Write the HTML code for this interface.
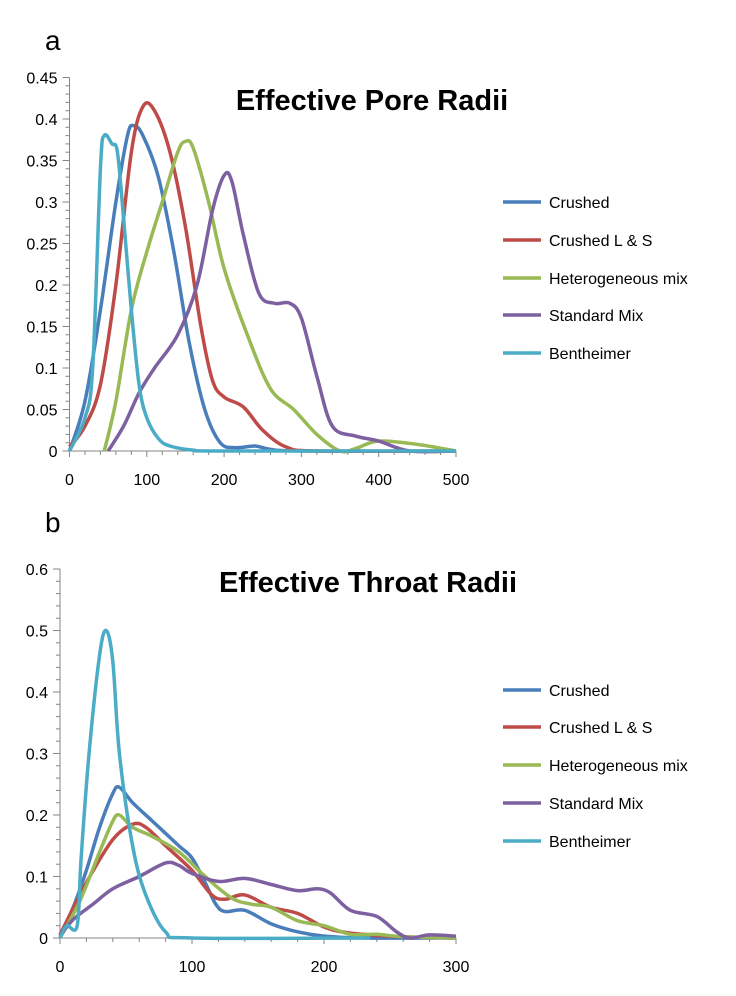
<!DOCTYPE html>
<html><head><meta charset="utf-8"><style>
body{margin:0;background:#fff;}
svg text{font-family:"Liberation Sans",sans-serif;}
</style></head><body>
<svg id="s" width="736" height="991" xmlns="http://www.w3.org/2000/svg">
<text x="45" y="50" font-size="28">a</text>
<text x="45" y="532" font-size="28">b</text>
<text x="372" y="110" font-size="29" font-weight="bold" text-anchor="middle">Effective Pore Radii</text>
<text x="368" y="592" font-size="29" font-weight="bold" text-anchor="middle">Effective Throat Radii</text>
</svg>
<script>
const s=document.getElementById('s');const NS='http://www.w3.org/2000/svg';
function el(t,a,txt){const e=document.createElementNS(NS,t);for(const k in a)e.setAttribute(k,a[k]);if(txt!==undefined)e.textContent=txt;s.appendChild(e);return e;}
function path(pts){let d='M'+pts[0][0]+','+pts[0][1];for(let i=0;i<pts.length-1;i++){const p0=pts[i-1]||pts[i],p1=pts[i],p2=pts[i+1],p3=pts[i+2]||p2;
const c1=[p1[0]+(p2[0]-p0[0])/6,p1[1]+(p2[1]-p0[1])/6],c2=[p2[0]-(p3[0]-p1[0])/6,p2[1]-(p3[1]-p1[1])/6];
d+=` C${c1[0]},${c1[1]} ${c2[0]},${c2[1]} ${p2[0]},${p2[1]}`;}return d;}
const cols=['#4A7EBB','#BE4B48','#98B954','#7D60A0','#4BACC6'];
const names=['Crushed','Crushed L & S','Heterogeneous mix','Standard Mix','Bentheimer'];
function chart(o){
 const X=v=>o.x0+o.sx*v,Y=v=>o.y0-o.sy*v;
 const ax='#868686';
 el('line',{x1:X(0),y1:Y(0),x2:X(0),y2:Y(o.ymax),stroke:ax,'stroke-width':1});
 el('line',{x1:X(0),y1:Y(0),x2:X(o.xmax),y2:Y(0),stroke:ax,'stroke-width':1});
 for(let v=0;v<=o.ymax+1e-9;v+=o.ymin){el('line',{x1:X(0)-4,y1:Y(v),x2:X(0),y2:Y(v),stroke:ax});}
 for(let v=0;v<=o.ymax+1e-9;v+=o.ystep){el('line',{x1:X(0)-7,y1:Y(v),x2:X(0),y2:Y(v),stroke:ax});
  el('text',{x:X(0)-12,y:Y(v)+6,'font-size':16,'text-anchor':'end'},+v.toFixed(2)+'');}
 for(let v=0;v<=o.xmax;v+=20){el('line',{x1:X(v),y1:Y(0),x2:X(v),y2:Y(0)+(v%100?4:6),stroke:ax});}
 for(let v=0;v<=o.xmax;v+=100)el('text',{x:X(v),y:Y(0)+34,'font-size':16,'text-anchor':'middle'},v+'');
 o.data.forEach((d,i)=>{el('path',{d:path(d.map(p=>[X(p[0]),Y(p[1])])),fill:'none',stroke:cols[i],'stroke-width':3.5,'stroke-linejoin':'round'});});
 o.leg.forEach((y,i)=>{el('line',{x1:503,y1:y,x2:541,y2:y,stroke:cols[i],'stroke-width':3.5});el('text',{x:549,y:y+6,'font-size':16},names[i]);});
}
chart({x0:69.5,sx:0.773,y0:451,sy:830,xmax:500,ymax:0.45,ystep:0.05,ymin:0.01,leg:[202,240,278,315,353],data:[
[[0,0],[20,0.06],[40,0.17],[60,0.3],[75,0.38],[83,0.392],[95,0.38],[115,0.33],[135,0.24],[155,0.13],[175,0.05],[195,0.01],[215,0.004],[240,0.006],[260,0.002],[300,0],[500,0]],
[[0,0.005],[20,0.03],[40,0.08],[60,0.2],[80,0.36],[95,0.415],[110,0.41],[130,0.36],[150,0.27],[170,0.15],[185,0.085],[200,0.065],[225,0.053],[250,0.025],[280,0.005],[320,0],[500,0]],
[[45,0],[60,0.06],[80,0.17],[100,0.24],[120,0.3],[140,0.36],[150,0.373],[160,0.365],[180,0.3],[200,0.22],[230,0.14],[260,0.075],[290,0.05],[320,0.02],[350,0],[370,0.003],[400,0.012],[450,0.008],[500,0]],
[[50,0],[70,0.03],[90,0.07],[110,0.1],[140,0.14],[165,0.2],[185,0.29],[200,0.332],[210,0.325],[225,0.26],[245,0.19],[265,0.178],[285,0.178],[300,0.16],[320,0.09],[340,0.03],[370,0.018],[400,0.012],[440,0],[500,0]],
[[0,0],[20,0.04],[30,0.1],[40,0.34],[45,0.38],[55,0.37],[62,0.36],[70,0.28],[80,0.17],[90,0.08],[100,0.04],[115,0.015],[130,0.006],[160,0.001],[200,0],[500,0]]]});
chart({x0:60,sx:1.32,y0:938,sy:615,xmax:300,ymax:0.6,ystep:0.1,ymin:0.02,leg:[690,727,765,803,841],data:[
[[0,0.005],[10,0.05],[20,0.11],[30,0.18],[40,0.235],[45,0.245],[55,0.22],[70,0.19],[90,0.15],[100,0.13],[110,0.09],[118,0.055],[125,0.043],[140,0.045],[160,0.023],[180,0.01],[200,0.003],[230,0],[300,0]],
[[0,0.005],[20,0.09],[40,0.16],[55,0.185],[65,0.18],[80,0.15],[100,0.11],[115,0.07],[125,0.063],[140,0.07],[160,0.05],[180,0.04],[200,0.018],[220,0.008],[260,0.002],[300,0]],
[[0,0],[15,0.06],[30,0.14],[40,0.19],[45,0.2],[55,0.18],[70,0.165],[90,0.14],[110,0.1],[130,0.065],[145,0.055],[160,0.05],[180,0.028],[200,0.02],[220,0.006],[240,0.006],[260,0.002],[300,0]],
[[0,0.003],[10,0.03],[25,0.055],[40,0.08],[60,0.1],[80,0.122],[90,0.118],[100,0.105],[120,0.092],[140,0.097],[160,0.087],[180,0.077],[195,0.08],[205,0.073],[220,0.045],[240,0.035],[255,0.01],[265,0],[280,0.005],[300,0.003]],
[[0,0],[5,0.02],[13,0.02],[16,0.13],[22,0.3],[30,0.46],[35,0.5],[40,0.45],[45,0.3],[55,0.15],[65,0.07],[80,0.01],[100,0],[235,0]]]});
</script>
</body></html>
